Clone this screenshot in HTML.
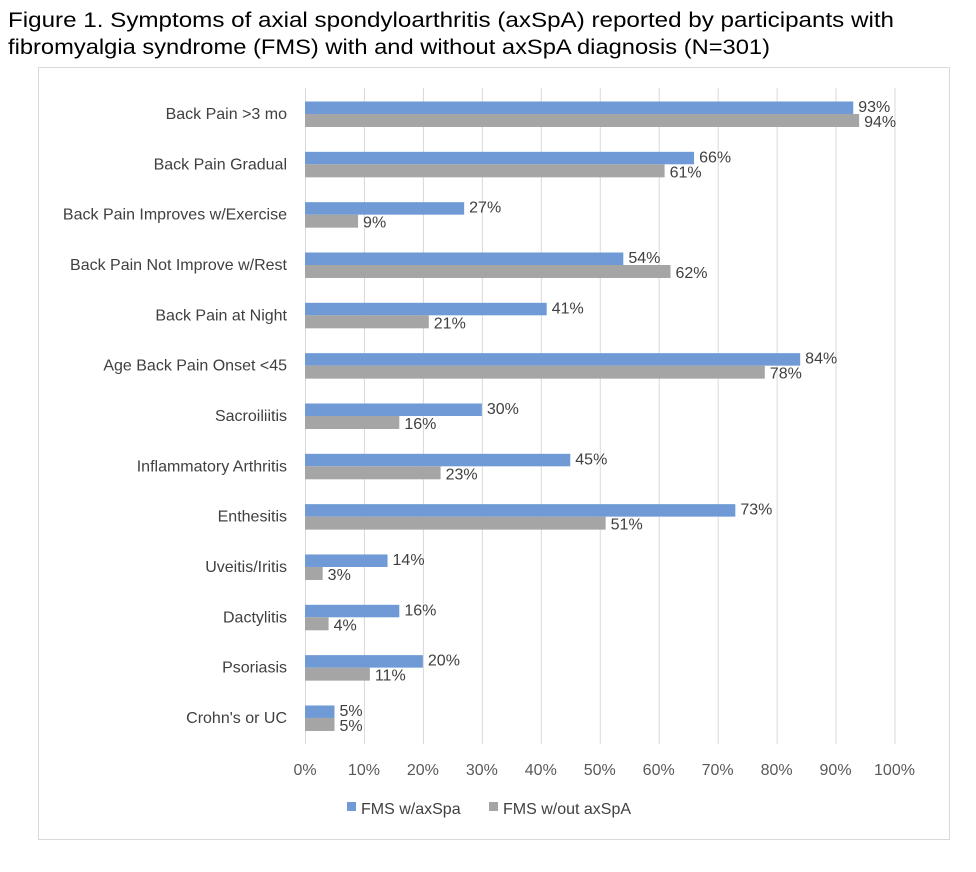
<!DOCTYPE html>
<html><head><meta charset="utf-8"><style>
body{margin:0;background:#fff;width:976px;height:867px;overflow:hidden;font-family:"Liberation Sans",Calibri,sans-serif}
</style></head><body>
<svg width="976" height="867" xmlns="http://www.w3.org/2000/svg" font-family="Liberation Sans, sans-serif">
<text x="8" y="27" font-size="21" fill="#000" textLength="886" lengthAdjust="spacingAndGlyphs">Figure 1. Symptoms of axial spondyloarthritis (axSpA) reported by participants with</text>
<text x="8" y="54" font-size="21" fill="#000" textLength="762" lengthAdjust="spacingAndGlyphs">fibromyalgia syndrome (FMS) with and without axSpA diagnosis (N=301)</text>
<rect x="38.5" y="67.5" width="911" height="772" fill="none" stroke="#d9d9d9"/>
<g id="grid"></g><g id="bars"></g><g id="labels"></g>
<g>
<rect x="347" y="802" width="9" height="9" fill="#6f9ad6"/>
<text x="361" y="814" font-size="16" fill="#404040">FMS w/axSpa</text>
<rect x="489" y="802" width="9" height="9" fill="#a5a5a5"/>
<text x="503" y="814" font-size="16" fill="#404040">FMS w/out axSpA</text>
</g>
</svg>
<script>
const categories=["Back Pain >3 mo","Back Pain Gradual","Back Pain Improves w/Exercise","Back Pain Not Improve w/Rest","Back Pain at Night","Age Back Pain Onset <45","Sacroiliitis","Inflammatory Arthritis","Enthesitis","Uveitis/Iritis","Dactylitis","Psoriasis","Crohn's or UC"];
const withAxSpA=[93,66,27,54,41,84,30,45,73,14,16,20,5];
const withoutAxSpA=[94,61,9,62,21,78,16,23,51,3,4,11,5];
const ticks=[0,10,20,30,40,50,60,70,80,90,100];
const NS="http://www.w3.org/2000/svg";
const x=v=>305+v*5.895;
const yc=i=>114+i*50.33;
function mk(tag,attrs,parent,text){const e=document.createElementNS(NS,tag);for(const k in attrs)e.setAttribute(k,attrs[k]);if(text!==undefined)e.textContent=text;document.getElementById(parent).appendChild(e);return e;}
ticks.forEach(t=>{
 const l=mk('line',{x1:x(t)+0.5,x2:x(t)+0.5,y1:88,y2:744,stroke:'#d9d9d9','stroke-width':1},'grid');
 
 
 const tx=mk('text',{x:x(t),y:775,'font-size':16,fill:'#595959','text-anchor':'middle'},'labels',t+'%');
 
 
});
categories.forEach((c,i)=>{
 const y=yc(i);
 const cl=mk('text',{x:287,y:y+5,'font-size':16,fill:'#404040','text-anchor':'end'},'labels',c);
 
 
 const b1=mk('rect',{x:x(0),y:y-12.5,width:x(withAxSpA[i])-x(0),height:12.5,fill:'#6f9ad6'},'bars');
 
 
 const b2=mk('rect',{x:x(0),y:y,width:x(withoutAxSpA[i])-x(0),height:13,fill:'#a5a5a5'},'bars');
 
 
 const v1=mk('text',{x:x(withAxSpA[i])+5,y:y-2,'font-size':16,fill:'#404040'},'labels',withAxSpA[i]+'%');
 
 
 const v2=mk('text',{x:x(withoutAxSpA[i])+5,y:y+13,'font-size':16,fill:'#404040'},'labels',withoutAxSpA[i]+'%');
 
 
});
</script>
</body></html>
